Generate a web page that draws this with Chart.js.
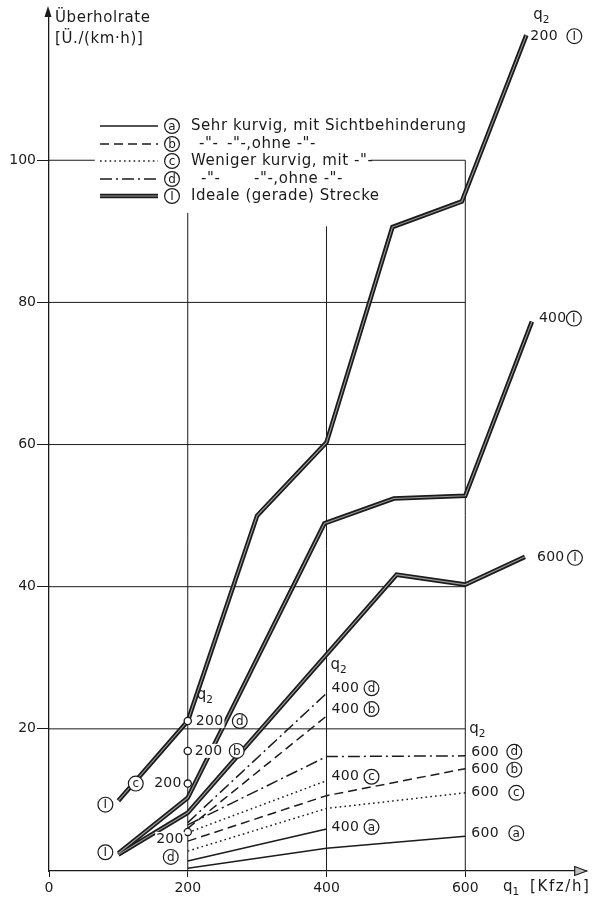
<!DOCTYPE html>
<html>
<head>
<meta charset="utf-8">
<script src="https://cdn.jsdelivr.net/npm/chart.js@4.4.1/dist/chart.umd.min.js"></script>
<style>
  html, body { margin: 0; padding: 0; background: #fff; }
  canvas { display: block; }
</style>
</head>
<body>
<canvas id="chart" width="592" height="900"></canvas>
<script>
// Überholrate [Ü./(km·h)] über q1 [Kfz/h], Scharparameter q2

// Ideale (gerade) Strecke
const q1Ideal200 = [100, 200, 300, 400, 495, 595, 688];
const rateIdeal200 = [9.9, 21.1, 50.0, 60.3, 90.6, 94.2, 117.6];
const q1Ideal400 = [100, 200, 397, 497, 600, 696];
const rateIdeal400 = [2.5, 10.3, 48.9, 52.4, 52.8, 77.3];
const q1Ideal600 = [100, 200, 501, 600, 686];
const rateIdeal600 = [2.3, 8.2, 41.7, 40.3, 44.2];

// Streckentypen a–d
const q1To400 = [200, 400];
const q1To600 = [200, 400, 600];
const rateA400 = [1.4, 5.9];
const rateA600 = [0.4, 3.2, 4.9];
const rateB400 = [6.0, 21.8];
const rateB600 = [4.2, 10.6, 14.4];
const rateC400 = [5.4, 12.7];
const rateC600 = [2.8, 8.8, 11.0];
const rateD400 = [6.8, 25.0];
const rateD600 = [6.5, 16.1, 16.2];

// Einzelwerte für q2 = 200 bei q1 = 200
const q1Single = 200;
const rateAt200 = [21.1, 16.9, 12.3, 5.5];
const tagAt200 = ['d', 'b', 'c', 'd'];

const xTicks = [0, 200, 400, 600];
const yTicks = [20, 40, 60, 80, 100];

const INK = '#1b1b1b';
const FONT = '"DejaVu Sans", "Liberation Sans", sans-serif';
const DASH = { a: [], b: [9, 5], c: [1.6, 3.2], d: [12, 4, 2, 4] };

const pts = (xs, ys) => xs.map((x, i) => ({ x: x, y: ys[i] }));

function thinLine(xs, ys, kind) {
  return {
    type: 'line', data: pts(xs, ys), borderColor: INK, borderWidth: 1.5,
    borderDash: DASH[kind], pointRadius: 0, tension: 0, fill: false, order: 3
  };
}
function idealOuter(xs, ys) {
  return {
    type: 'line', data: pts(xs, ys), borderColor: INK, borderWidth: 4.6,
    pointRadius: 0, tension: 0, fill: false, order: 2, borderJoinStyle: 'miter'
  };
}
function idealInner(xs, ys) {
  return {
    type: 'line', data: pts(xs, ys), borderColor: '#9a9a9a', borderWidth: 1.1,
    pointRadius: 0, tension: 0, fill: false, order: 1, borderJoinStyle: 'miter'
  };
}

const datasets = [
  thinLine(q1To400, rateA400, 'a'),
  thinLine(q1To600, rateA600, 'a'),
  thinLine(q1To400, rateB400, 'b'),
  thinLine(q1To600, rateB600, 'b'),
  thinLine(q1To400, rateC400, 'c'),
  thinLine(q1To600, rateC600, 'c'),
  thinLine(q1To400, rateD400, 'd'),
  thinLine(q1To600, rateD600, 'd'),
  idealOuter(q1Ideal200, rateIdeal200),
  idealOuter(q1Ideal400, rateIdeal400),
  idealOuter(q1Ideal600, rateIdeal600),
  idealInner(q1Ideal200, rateIdeal200),
  idealInner(q1Ideal400, rateIdeal400),
  idealInner(q1Ideal600, rateIdeal600),
  {
    type: 'scatter', data: rateAt200.map(v => ({ x: q1Single, y: v })),
    pointRadius: 3.6, pointBackgroundColor: '#fff', pointBorderColor: INK,
    pointBorderWidth: 1.3, order: 0
  }
];

// ---- drawing helpers ----
function setFont(ctx, size, spacing) {
  ctx.font = size + 'px ' + FONT;
  if ('letterSpacing' in ctx) ctx.letterSpacing = (spacing || 0) + 'px';
}

function circled(ctx, x, y, ch) {
  ctx.save();
  ctx.beginPath();
  ctx.arc(x, y, 7.4, 0, Math.PI * 2);
  ctx.fillStyle = '#fff';
  ctx.fill();
  ctx.lineWidth = 1.2;
  ctx.strokeStyle = INK;
  ctx.stroke();
  ctx.fillStyle = INK;
  setFont(ctx, 12, 0);
  ctx.textAlign = 'center';
  ctx.textBaseline = 'middle';
  ctx.fillText(ch, x, y + 0.5);
  ctx.restore();
}

function text(ctx, s, x, y, align, knock, size, spacing) {
  ctx.save();
  setFont(ctx, size || 14, spacing || 0);
  ctx.textAlign = align || 'left';
  ctx.textBaseline = 'middle';
  if (knock) {
    const w = ctx.measureText(s).width;
    const left = align === 'right' ? x - w : (align === 'center' ? x - w / 2 : x);
    ctx.fillStyle = '#fff';
    ctx.fillRect(left - 1, y - 7, w + 2, 14);
  }
  ctx.fillStyle = INK;
  ctx.fillText(s, x, y);
  ctx.restore();
}

function q2(ctx, x, y) {
  ctx.save();
  ctx.fillStyle = INK;
  ctx.textBaseline = 'middle';
  ctx.textAlign = 'left';
  setFont(ctx, 15, 0);
  ctx.fillText('q', x, y - 2);
  const w = ctx.measureText('q').width;
  setFont(ctx, 10.5, 0);
  ctx.fillText('2', x + w, y + 3);
  ctx.restore();
}

// Text mit eingekreistem Buchstaben, am Datenpunkt verankert
function tagged(ctx, P, q, v, dx, dy, s, ch, tagDx) {
  const p = P(q, v);
  text(ctx, s, p.x + dx, p.y + dy, 'left', true, 14, 0.3);
  circled(ctx, p.x + dx + tagDx, p.y + dy, ch);
}

const chartDecor = {
  id: 'chartDecor',
  beforeDatasetsDraw(chart) {
    const ctx = chart.ctx;
    const xs = chart.scales.x, ys = chart.scales.y;
    const X = v => xs.getPixelForValue(v), Y = v => ys.getPixelForValue(v);
    ctx.save();
    ctx.strokeStyle = INK;
    ctx.lineWidth = 1;
    const seg = (x1, y1, x2, y2) => {
      ctx.beginPath(); ctx.moveTo(x1, y1); ctx.lineTo(x2, y2); ctx.stroke();
    };
    // Raster: waagerechte Linien bis q1 = 600
    [20, 40, 60, 80].forEach(v => seg(X(0), Y(v), X(600), Y(v)));
    seg(X(0), Y(100), X(66), Y(100));
    seg(X(464), Y(100), X(600), Y(100));
    // senkrechte Linien
    seg(X(200), Y(0), X(200), Y(92.6));
    seg(X(400), Y(0), X(400), Y(90.7));
    seg(X(600), Y(0), X(600), Y(100));
    ctx.restore();
  },
  afterDraw(chart) {
    const ctx = chart.ctx;
    const xs = chart.scales.x, ys = chart.scales.y;
    const P = (q, v) => ({ x: xs.getPixelForValue(q), y: ys.getPixelForValue(v) });
    const area = chart.chartArea;

    // Achsenpfeile
    ctx.save();
    ctx.fillStyle = INK;
    ctx.strokeStyle = INK;
    ctx.lineWidth = 1.2;
    ctx.beginPath();
    ctx.moveTo(area.left - 1, 6);
    ctx.lineTo(area.left - 4.5, 17);
    ctx.lineTo(area.left + 2.5, 17);
    ctx.closePath();
    ctx.fill();
    ctx.beginPath();
    ctx.moveTo(area.right, area.bottom);
    ctx.lineTo(area.right - 12, area.bottom - 4.5);
    ctx.lineTo(area.right - 12, area.bottom + 4.5);
    ctx.closePath();
    ctx.fillStyle = '#bdbdbd';
    ctx.fill();
    ctx.stroke();
    ctx.restore();

    // Achsentitel
    ctx.save();
    ctx.fillStyle = INK;
    ctx.textBaseline = 'alphabetic';
    ctx.textAlign = 'left';
    setFont(ctx, 15, 0.6);
    ctx.fillText('Überholrate', 55, 22);
    ctx.fillText('[Ü./(km·h)]', 55, 43);
    setFont(ctx, 15, 0);
    ctx.fillText('q', 503, 891);
    const wq = ctx.measureText('q').width;
    setFont(ctx, 10.5, 0);
    ctx.fillText('1', 503 + wq, 895);
    setFont(ctx, 15, 1.6);
    ctx.fillText('[Kfz/h]', 530, 891);
    ctx.restore();

    // Legende
    const rows = [
      { k: 'a', y: 126, parts: [[191, 'Sehr kurvig, mit Sichtbehinderung']] },
      { k: 'b', y: 144, parts: [[199, '-"-'], [227, '-"-,ohne -"-']] },
      { k: 'c', y: 161, parts: [[191, 'Weniger kurvig, mit -"-']] },
      { k: 'd', y: 179, parts: [[201, '-"-'], [254, '-"-,ohne -"-']] },
      { k: 'I', y: 196, parts: [[191, 'Ideale (gerade) Strecke']] }
    ];
    rows.forEach(r => {
      ctx.save();
      ctx.strokeStyle = INK;
      if (r.k === 'I') {
        ctx.lineWidth = 4.6;
        ctx.beginPath(); ctx.moveTo(100, r.y); ctx.lineTo(158, r.y); ctx.stroke();
        ctx.strokeStyle = '#9a9a9a';
        ctx.lineWidth = 1.1;
        ctx.beginPath(); ctx.moveTo(100, r.y); ctx.lineTo(158, r.y); ctx.stroke();
      } else {
        ctx.lineWidth = 1.5;
        ctx.setLineDash(DASH[r.k]);
        ctx.beginPath(); ctx.moveTo(100, r.y); ctx.lineTo(158, r.y); ctx.stroke();
      }
      ctx.restore();
      circled(ctx, 172, r.y, r.k);
      r.parts.forEach(p => text(ctx, p[1], p[0], r.y, 'left', false, 15, 0.55));
    });

    // Beschriftung der Idealkurven
    const e200 = q1Ideal200.length - 1, e400 = q1Ideal400.length - 1, e600 = q1Ideal600.length - 1;
    const top = P(q1Ideal200[e200], rateIdeal200[e200]);
    q2(ctx, top.x + 7, top.y - 18);
    tagged(ctx, P, q1Ideal200[e200], rateIdeal200[e200], 4, 1, '200', 'I', 44);
    tagged(ctx, P, q1Ideal400[e400], rateIdeal400[e400], 7, -3, '400', 'I', 35);
    tagged(ctx, P, q1Ideal600[e600], rateIdeal600[e600], 12, 1, '600', 'I', 38);
    const s200 = P(q1Ideal200[0], rateIdeal200[0]);
    circled(ctx, s200.x - 13, s200.y + 4, 'I');
    const s400 = P(q1Ideal400[0], rateIdeal400[0]);
    circled(ctx, s400.x - 13, s400.y - 1, 'I');

    // q2 = 200: Einzelwerte
    const m0 = P(q1Single, rateAt200[0]);
    q2(ctx, m0.x + 9, m0.y - 24);
    tagged(ctx, P, q1Single, rateAt200[0], 8, 0, '200', tagAt200[0], 44);
    tagged(ctx, P, q1Single, rateAt200[1], 7, 0, '200', tagAt200[1], 42);
    const m2 = P(q1Single, rateAt200[2]);
    text(ctx, '200', m2.x - 6, m2.y, 'right', true, 14, 0.3);
    circled(ctx, m2.x - 52, m2.y, tagAt200[2]);
    const m3 = P(q1Single, rateAt200[3]);
    text(ctx, '200', m3.x - 4, m3.y + 7, 'right', true, 14, 0.3);
    circled(ctx, m3.x - 17, m3.y + 25, tagAt200[3]);

    // q2 = 400
    const d4 = P(400, rateD400[1]);
    q2(ctx, d4.x + 4, d4.y - 26);
    tagged(ctx, P, 400, rateD400[1], 5, -5, '400', 'd', 40);
    tagged(ctx, P, 400, rateB400[1], 5, -7, '400', 'b', 40);
    tagged(ctx, P, 400, rateC400[1], 5, -4, '400', 'c', 40);
    tagged(ctx, P, 400, rateA400[1], 5, -2, '400', 'a', 40);

    // q2 = 600
    const d6 = P(600, rateD600[2]);
    q2(ctx, d6.x + 4, d6.y - 25);
    tagged(ctx, P, 600, rateD600[2], 6, -4, '600', 'd', 43);
    tagged(ctx, P, 600, rateB600[2], 6, 1, '600', 'b', 43);
    tagged(ctx, P, 600, rateC600[2], 6, 0, '600', 'c', 45);
    tagged(ctx, P, 600, rateA600[2], 6, -3, '600', 'a', 45);
  }
};

new Chart(document.getElementById('chart'), {
  data: { datasets: datasets },
  options: {
    responsive: false,
    animation: false,
    devicePixelRatio: 1,
    layout: { padding: { top: 11, right: 2, left: 0, bottom: 0 } },
    plugins: { legend: { display: false }, tooltip: { enabled: false } },
    scales: {
      x: {
        type: 'linear', min: 0, max: 775,
        afterBuildTicks: s => { s.ticks = xTicks.map(v => ({ value: v })); },
        afterFit: s => { s.height = 29; },
        ticks: { color: INK, font: { family: FONT, size: 14 }, padding: 3, maxRotation: 0, autoSkip: false },
        grid: { drawOnChartArea: false, drawTicks: true, tickLength: 6, color: INK, lineWidth: 1 },
        border: { display: true, color: INK, width: 1.3 }
      },
      y: {
        type: 'linear', min: 0, max: 121,
        afterBuildTicks: s => { s.ticks = yTicks.map(v => ({ value: v })); },
        afterFit: s => { s.width = 49; },
        ticks: { color: INK, font: { family: FONT, size: 14 }, padding: 1, autoSkip: false },
        grid: { drawOnChartArea: false, drawTicks: true, tickLength: 12, color: INK, lineWidth: 1 },
        border: { display: true, color: INK, width: 1.3 }
      }
    }
  },
  plugins: [chartDecor]
});
</script>
</body>
</html>
